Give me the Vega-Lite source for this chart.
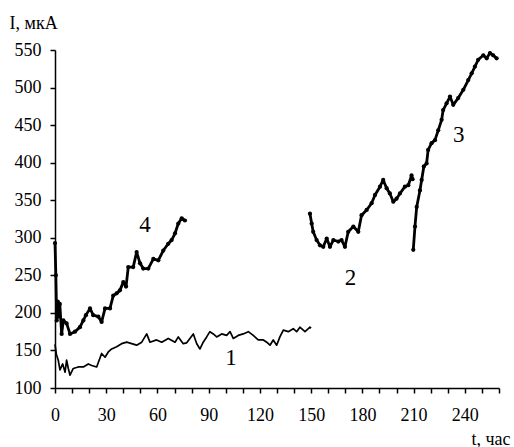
{
  "$schema": "https://vega.github.io/schema/vega-lite/v6.json",
  "width": 444,
  "height": 338,
  "autosize": {"type": "none"},
  "padding": {"left": 55, "top": 50, "right": 15, "bottom": 59},
  "background": "white",
  "config": {
    "view": {"stroke": null},
    "axis": {
      "grid": false,
      "domainColor": "black",
      "domainWidth": 1.5,
      "tickColor": "black",
      "tickWidth": 1.5,
      "tickSize": 5,
      "labelFont": "Liberation Serif",
      "labelFontSize": 18,
      "labelColor": "black",
      "titleFont": "Liberation Serif",
      "titleFontSize": 18,
      "titleFontWeight": "normal",
      "titleColor": "black"
    }
  },
  "datasets": {
    "curves": [
      {"series": "1", "t": 0, "I": 158},
      {"series": "1", "t": 0.8, "I": 145},
      {"series": "1", "t": 1.9, "I": 137},
      {"series": "1", "t": 2.9, "I": 124},
      {"series": "1", "t": 4.5, "I": 132},
      {"series": "1", "t": 5.9, "I": 121},
      {"series": "1", "t": 6.8, "I": 137},
      {"series": "1", "t": 7.8, "I": 126},
      {"series": "1", "t": 8.8, "I": 117},
      {"series": "1", "t": 10.7, "I": 126},
      {"series": "1", "t": 13.6, "I": 128},
      {"series": "1", "t": 16.6, "I": 128},
      {"series": "1", "t": 19.5, "I": 132},
      {"series": "1", "t": 21.5, "I": 130},
      {"series": "1", "t": 24.4, "I": 128},
      {"series": "1", "t": 27.3, "I": 146},
      {"series": "1", "t": 29.3, "I": 141},
      {"series": "1", "t": 31.2, "I": 148},
      {"series": "1", "t": 33.2, "I": 152},
      {"series": "1", "t": 36.1, "I": 155},
      {"series": "1", "t": 39, "I": 159},
      {"series": "1", "t": 42, "I": 161},
      {"series": "1", "t": 44.9, "I": 159},
      {"series": "1", "t": 47.8, "I": 157},
      {"series": "1", "t": 50.8, "I": 161},
      {"series": "1", "t": 53.7, "I": 172},
      {"series": "1", "t": 55.6, "I": 161},
      {"series": "1", "t": 59.5, "I": 164},
      {"series": "1", "t": 62.5, "I": 161},
      {"series": "1", "t": 66.3, "I": 166},
      {"series": "1", "t": 70.3, "I": 161},
      {"series": "1", "t": 72.2, "I": 168},
      {"series": "1", "t": 75.1, "I": 159},
      {"series": "1", "t": 77, "I": 160},
      {"series": "1", "t": 79, "I": 166},
      {"series": "1", "t": 81, "I": 172},
      {"series": "1", "t": 83, "I": 159},
      {"series": "1", "t": 84.9, "I": 152},
      {"series": "1", "t": 86.8, "I": 161},
      {"series": "1", "t": 88.8, "I": 168},
      {"series": "1", "t": 90.7, "I": 175},
      {"series": "1", "t": 92.7, "I": 172},
      {"series": "1", "t": 94.7, "I": 168},
      {"series": "1", "t": 97.6, "I": 172},
      {"series": "1", "t": 100.5, "I": 170},
      {"series": "1", "t": 102.5, "I": 175},
      {"series": "1", "t": 104.4, "I": 166},
      {"series": "1", "t": 107.3, "I": 170},
      {"series": "1", "t": 110.2, "I": 172},
      {"series": "1", "t": 113.2, "I": 175},
      {"series": "1", "t": 116.1, "I": 170},
      {"series": "1", "t": 119, "I": 164},
      {"series": "1", "t": 122, "I": 164},
      {"series": "1", "t": 124, "I": 161},
      {"series": "1", "t": 125.9, "I": 157},
      {"series": "1", "t": 127.8, "I": 164},
      {"series": "1", "t": 129.8, "I": 157},
      {"series": "1", "t": 131.7, "I": 168},
      {"series": "1", "t": 133.7, "I": 177},
      {"series": "1", "t": 136.6, "I": 175},
      {"series": "1", "t": 139.5, "I": 179},
      {"series": "1", "t": 141.5, "I": 175},
      {"series": "1", "t": 143.4, "I": 181},
      {"series": "1", "t": 146.4, "I": 175},
      {"series": "1", "t": 149.3, "I": 181},
      {"series": "1", "t": 150, "I": 180},

      {"series": "4", "t": 0, "I": 293},
      {"series": "4", "t": 0.5, "I": 250},
      {"series": "4", "t": 1, "I": 190},
      {"series": "4", "t": 1.6, "I": 215},
      {"series": "4", "t": 2.2, "I": 195},
      {"series": "4", "t": 2.8, "I": 212},
      {"series": "4", "t": 3.9, "I": 172},
      {"series": "4", "t": 4.9, "I": 190},
      {"series": "4", "t": 6.8, "I": 186},
      {"series": "4", "t": 8.8, "I": 172},
      {"series": "4", "t": 11.7, "I": 175},
      {"series": "4", "t": 14.6, "I": 181},
      {"series": "4", "t": 16.6, "I": 190},
      {"series": "4", "t": 18.1, "I": 197},
      {"series": "4", "t": 20.5, "I": 206},
      {"series": "4", "t": 22.4, "I": 197},
      {"series": "4", "t": 25.4, "I": 195},
      {"series": "4", "t": 27.3, "I": 188},
      {"series": "4", "t": 29.3, "I": 206},
      {"series": "4", "t": 32.2, "I": 206},
      {"series": "4", "t": 34.1, "I": 223},
      {"series": "4", "t": 36.1, "I": 226},
      {"series": "4", "t": 38, "I": 230},
      {"series": "4", "t": 40, "I": 241},
      {"series": "4", "t": 41.6, "I": 235},
      {"series": "4", "t": 42.9, "I": 261},
      {"series": "4", "t": 45.8, "I": 261},
      {"series": "4", "t": 47.8, "I": 281},
      {"series": "4", "t": 49.8, "I": 266},
      {"series": "4", "t": 51.7, "I": 259},
      {"series": "4", "t": 54.6, "I": 259},
      {"series": "4", "t": 57.6, "I": 272},
      {"series": "4", "t": 60.5, "I": 270},
      {"series": "4", "t": 63.4, "I": 283},
      {"series": "4", "t": 66.3, "I": 292},
      {"series": "4", "t": 68.3, "I": 297},
      {"series": "4", "t": 70.3, "I": 306},
      {"series": "4", "t": 72.2, "I": 319},
      {"series": "4", "t": 74.2, "I": 326},
      {"series": "4", "t": 76.1, "I": 323},

      {"series": "2", "t": 149.3, "I": 332},
      {"series": "2", "t": 150.3, "I": 319},
      {"series": "2", "t": 151.2, "I": 308},
      {"series": "2", "t": 153.2, "I": 297},
      {"series": "2", "t": 155.2, "I": 290},
      {"series": "2", "t": 157.1, "I": 288},
      {"series": "2", "t": 159.1, "I": 299},
      {"series": "2", "t": 161, "I": 288},
      {"series": "2", "t": 163, "I": 297},
      {"series": "2", "t": 165.9, "I": 295},
      {"series": "2", "t": 167.8, "I": 297},
      {"series": "2", "t": 169.8, "I": 288},
      {"series": "2", "t": 171.7, "I": 308},
      {"series": "2", "t": 174.7, "I": 315},
      {"series": "2", "t": 177.6, "I": 308},
      {"series": "2", "t": 179.5, "I": 330},
      {"series": "2", "t": 182.5, "I": 337},
      {"series": "2", "t": 185.4, "I": 346},
      {"series": "2", "t": 187.4, "I": 357},
      {"series": "2", "t": 190.3, "I": 368},
      {"series": "2", "t": 192.2, "I": 377},
      {"series": "2", "t": 194.2, "I": 366},
      {"series": "2", "t": 196.1, "I": 359},
      {"series": "2", "t": 198.1, "I": 348},
      {"series": "2", "t": 200, "I": 352},
      {"series": "2", "t": 202, "I": 359},
      {"series": "2", "t": 204.9, "I": 368},
      {"series": "2", "t": 206.9, "I": 370},
      {"series": "2", "t": 208.8, "I": 383},
      {"series": "2", "t": 209.4, "I": 378},

      {"series": "3", "t": 209.8, "I": 284},
      {"series": "3", "t": 210.8, "I": 315},
      {"series": "3", "t": 211.8, "I": 341},
      {"series": "3", "t": 213.7, "I": 363},
      {"series": "3", "t": 214.7, "I": 377},
      {"series": "3", "t": 216, "I": 395},
      {"series": "3", "t": 217.6, "I": 399},
      {"series": "3", "t": 218.5, "I": 417},
      {"series": "3", "t": 220.5, "I": 426},
      {"series": "3", "t": 222.5, "I": 430},
      {"series": "3", "t": 224.4, "I": 443},
      {"series": "3", "t": 226.4, "I": 457},
      {"series": "3", "t": 227.3, "I": 470},
      {"series": "3", "t": 229.3, "I": 479},
      {"series": "3", "t": 231.3, "I": 488},
      {"series": "3", "t": 233.2, "I": 477},
      {"series": "3", "t": 236.1, "I": 486},
      {"series": "3", "t": 239.1, "I": 497},
      {"series": "3", "t": 242, "I": 510},
      {"series": "3", "t": 244, "I": 519},
      {"series": "3", "t": 245.9, "I": 528},
      {"series": "3", "t": 247.8, "I": 537},
      {"series": "3", "t": 250.8, "I": 543},
      {"series": "3", "t": 252.8, "I": 539},
      {"series": "3", "t": 254.7, "I": 546},
      {"series": "3", "t": 256.6, "I": 543},
      {"series": "3", "t": 258.6, "I": 539}
    ],
    "labels": [
      {"label": "4", "t": 52.7, "I": 317},
      {"label": "1", "t": 103, "I": 140},
      {"label": "2", "t": 173, "I": 247},
      {"label": "3", "t": 236.5, "I": 437}
    ]
  },
  "data": {"name": "curves"},
  "encoding": {
    "x": {
      "field": "t", "type": "quantitative",
      "scale": {"domain": [0, 260], "nice": false, "zero": false},
      "axis": {
        "title": "t, час",
        "values": [0, 10, 20, 30, 40, 50, 60, 70, 80, 90, 100, 110, 120, 130, 140, 150, 160, 170, 180, 190, 200, 210, 220, 230, 240, 250, 260],
        "labelExpr": "datum.value % 30 == 0 && datum.value <= 240 ? datum.label : ''",
        "labelPadding": 13,
        "labelFlush": false,
        "labelOverlap": false,
        "titleAlign": "right",
        "titleAnchor": "start",
        "titleBaseline": "middle",
        "titleX": 455,
        "titleY": 51
      }
    },
    "y": {
      "field": "I", "type": "quantitative",
      "scale": {"domain": [100, 550], "nice": false, "zero": false},
      "axis": {
        "title": "I, мкА",
        "values": [100, 150, 200, 250, 300, 350, 400, 450, 500, 550],
        "labelPadding": 9,
        "labelOverlap": false,
        "labelFlush": false,
        "titleAngle": 0,
        "titleAlign": "left",
        "titleBaseline": "middle",
        "titleX": -46,
        "titleY": -27
      }
    }
  },
  "layer": [
    {
      "transform": [{"filter": "datum.series == '1'"}],
      "mark": {"type": "line", "color": "black", "strokeWidth": 1.7, "strokeJoin": "round"}
    },
    {
      "transform": [{"filter": "datum.series != '1'"}],
      "mark": {"type": "line", "color": "black", "strokeWidth": 2.8, "strokeJoin": "round"},
      "encoding": {"detail": {"field": "series"}}
    },
    {
      "transform": [{"filter": "datum.series != '1'"}],
      "mark": {"type": "point", "filled": true, "color": "black", "size": 18, "opacity": 1}
    },
    {
      "data": {"name": "labels"},
      "mark": {"type": "text", "font": "Liberation Serif", "fontSize": 23, "color": "black", "align": "center", "baseline": "middle"},
      "encoding": {"text": {"field": "label"}}
    }
  ]
}
